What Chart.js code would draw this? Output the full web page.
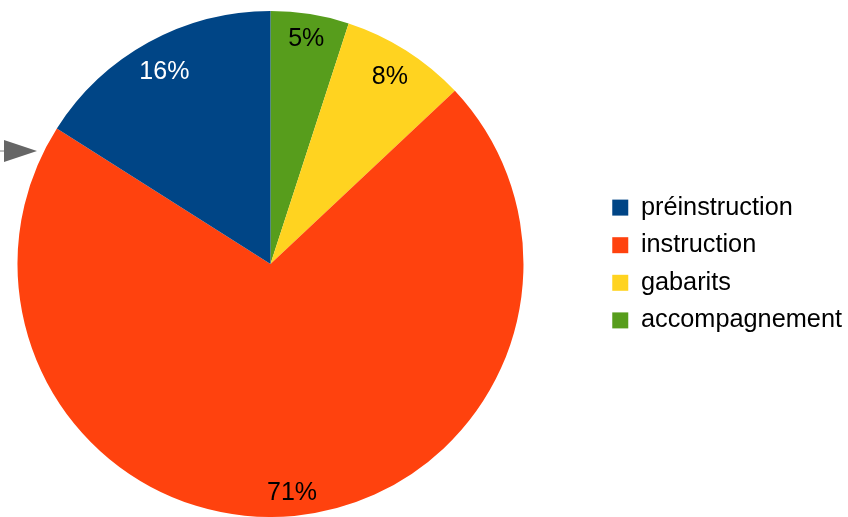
<!DOCTYPE html>
<html>
<head>
<meta charset="utf-8">
<script src="https://cdn.jsdelivr.net/npm/chart.js@4/dist/chart.umd.min.js"></script>
<style>
  html, body { margin: 0; padding: 0; background: #fff; overflow: hidden; }
  #wrap { position: relative; width: 848px; height: 517px; overflow: hidden; }
  #chart { position: absolute; top: 0; left: -59px; }
</style>
</head>
<body>
<div id="wrap"><canvas id="chart" width="907" height="517"></canvas></div>
<script>
// legend order, as in the reference
const labels = ['préinstruction', 'instruction', 'gabarits', 'accompagnement'];
const values = [16, 71, 8, 5];
const colors = ['#004586', '#ff420e', '#ffd320', '#579d1c'];
const labelColors = ['#ffffff', '#000000', '#000000', '#000000'];

// the reference runs counter-clockwise from the top, so draw reversed
const drawLabels = labels.slice().reverse();
const drawValues = values.slice().reverse();
const drawColors = colors.slice().reverse();
const drawLabelColors = labelColors.slice().reverse();

// canvas is pushed left so the pie sits where it does in the reference
const SHIFT = 59;

// labels sit so that the outer corner of their text box touches 95% of the radius
const sliceLabels = {
  id: 'sliceLabels',
  afterDatasetsDraw(chart) {
    const ctx = chart.ctx;
    const meta = chart.getDatasetMeta(0);
    ctx.save();
    ctx.font = '25px "Liberation Sans", Arial, sans-serif';
    ctx.textAlign = 'center';
    ctx.textBaseline = 'middle';
    meta.data.forEach((arc, i) => {
      const { x, y, startAngle, endAngle, outerRadius } =
        arc.getProps(['x', 'y', 'startAngle', 'endAngle', 'outerRadius'], true);
      const text = drawValues[i] + '%';
      const mid = (startAngle + endAngle) / 2;
      const hw = ctx.measureText(text).width / 2;
      const hh = 9.5;
      const inset = hw * Math.abs(Math.cos(mid)) + hh * Math.abs(Math.sin(mid));
      const r = outerRadius * 0.951 - inset;
      ctx.fillStyle = drawLabelColors[i];
      ctx.fillText(text, x + Math.cos(mid) * r, y + Math.sin(mid) * r + 1);
    });
    ctx.restore();
  },
};

// small grey pointer left of the pie
const pointer = {
  id: 'pointer',
  afterDraw(chart) {
    const ctx = chart.ctx;
    ctx.save();
    ctx.translate(SHIFT, 0);
    ctx.strokeStyle = '#808080';
    ctx.lineWidth = 1;
    ctx.beginPath();
    ctx.moveTo(0, 151);
    ctx.lineTo(5, 151);
    ctx.stroke();
    ctx.fillStyle = '#666666';
    ctx.beginPath();
    ctx.moveTo(4, 140);
    ctx.lineTo(37, 151);
    ctx.lineTo(4, 162);
    ctx.closePath();
    ctx.fill();
    ctx.restore();
  },
};

new Chart(document.getElementById('chart'), {
  type: 'pie',
  data: {
    labels: drawLabels,
    datasets: [
      {
        data: drawValues,
        backgroundColor: drawColors,
        borderWidth: 0,
        radius: 253,
        clip: false,
      },
    ],
  },
  options: {
    responsive: false,
    animation: false,
    rotation: 0,
    layout: {
      padding: { left: 0, right: -4, top: 11, bottom: 0 },
    },
    plugins: {
      tooltip: { enabled: false },
      legend: {
        position: 'right',
        reverse: true,
        labels: {
          color: '#000000',
          font: { family: '"Liberation Sans", Arial, sans-serif', size: 25.3 },
          boxWidth: 16,
          boxHeight: 16,
          padding: 12.3,
        },
      },
    },
  },
  plugins: [sliceLabels, pointer],
});
</script>
</body>
</html>
